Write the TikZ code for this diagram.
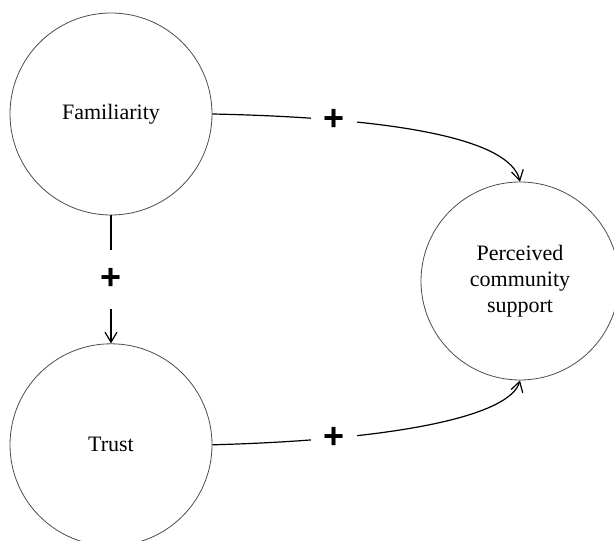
\documentclass[tikz,border=0pt]{standalone}
\usepackage{fontspec}
\setmainfont{Liberation Serif}
\newfontfamily\plusfont{Liberation Sans}
\usetikzlibrary{arrows.meta, positioning}

\begin{document}
\begin{tikzpicture}[
        x=0.5pt, y=0.5pt,
        font=\fontsize{11}{13}\selectfont,
        var_node/.style={
            circle,
            draw=black!70,
            line width=0.4pt,
            inner sep=0pt,
            align=center,
            minimum size=101pt
        },
        plus_label/.style={
            fill=white,
            inner sep=0pt,
            minimum width=23pt,
            minimum height=29.5pt,
            font=\plusfont\bfseries\fontsize{18}{18}\selectfont
        },
        link/.style={
            -{Straight Barb[length=5pt, width=6pt]},
            line width=0.6pt
        }
    ]
    \useasboundingbox (0,0) rectangle (614,540);

    % Constructs
    \node[var_node] (fam) at (111,426) {Familiarity};
    \node[var_node, below=64pt of fam] (trust) {Trust};
    \node[var_node, minimum size=99pt] (pcs) at (520,259) {Perceived\\community\\support};

    % Familiarity -> Trust
    \draw[link] (fam.south) -- (trust.north) node[midway, plus_label] {+};

    % Paths into perceived support
    \draw[link] (fam.east) .. controls +(188,-4) and +(-10,42) .. (pcs.north) node[pos=0.24, plus_label] {+};
    \draw[link] (trust.east) .. controls +(188,5) and +(-10,-35) .. (pcs.south) node[pos=0.24, plus_label] {+};

\end{tikzpicture}
\end{document}
